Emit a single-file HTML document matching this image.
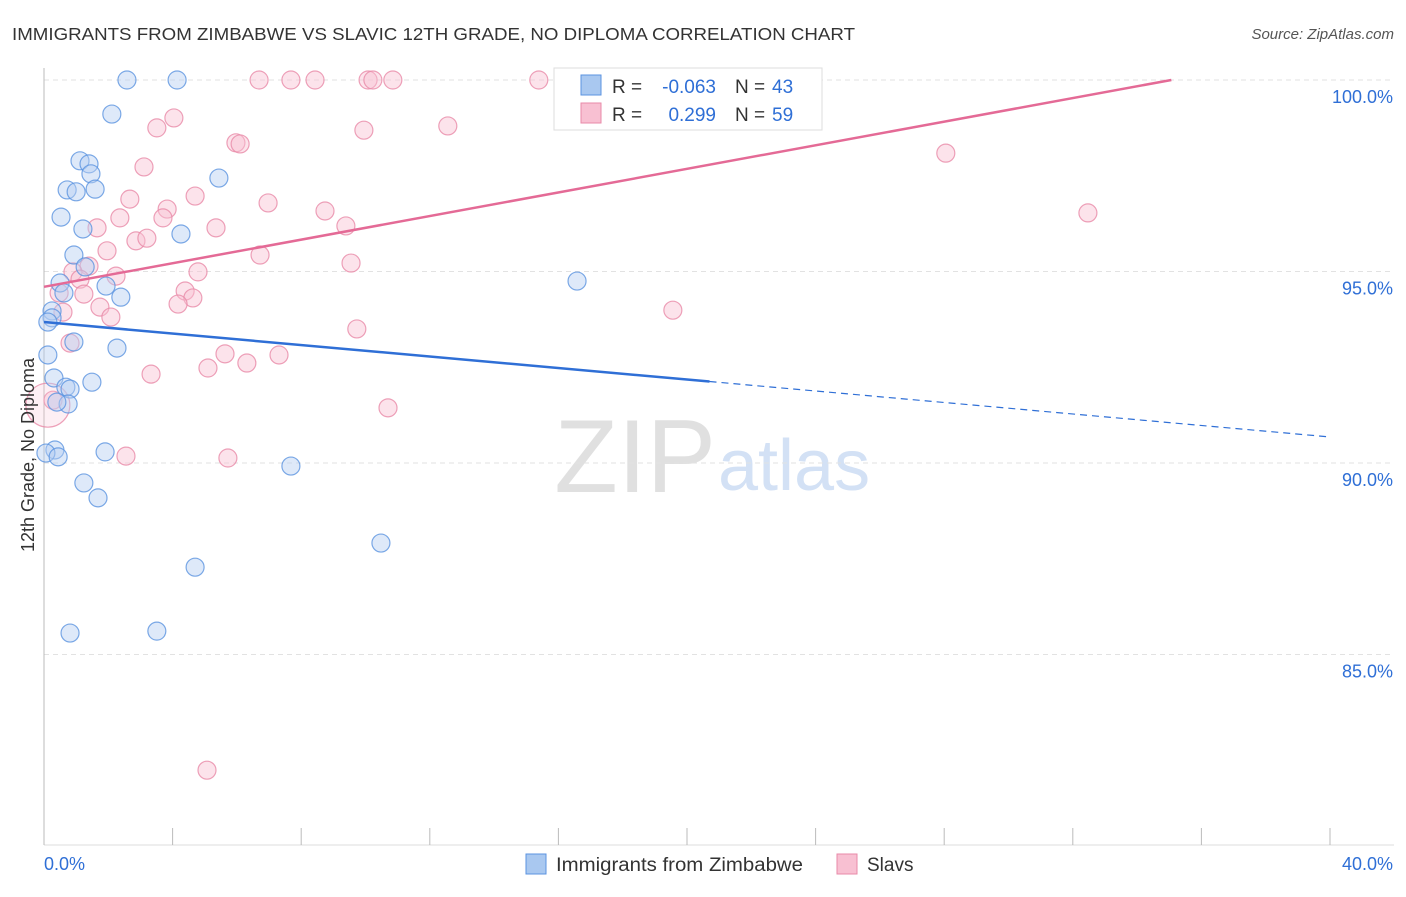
<!DOCTYPE html>
<html><head><meta charset="utf-8"><style>
body{margin:0;background:#fff;font-family:"Liberation Sans",sans-serif}
svg text{font-family:"Liberation Sans",sans-serif}
</style></head><body>
<svg id="chart" width="1406" height="892">
<text x="12" y="40" font-size="17.5" fill="#333" textLength="843" lengthAdjust="spacingAndGlyphs">IMMIGRANTS FROM ZIMBABWE VS SLAVIC 12TH GRADE, NO DIPLOMA CORRELATION CHART</text>
<text x="1394" y="39" font-size="15" fill="#555" text-anchor="end" font-style="italic">Source: ZipAtlas.com</text>
<text x="716" y="492" font-size="104" fill="#e0e0e0" text-anchor="end" font-family="Liberation Serif">ZIP</text>
<text x="718" y="490" font-size="72" fill="#d3e1f5">atlas</text>
<g id="grid"></g>
<g id="axes"></g>
<g id="pts"></g>
<g id="lines"></g>
<text transform="translate(34,455) rotate(-90)" font-size="18" fill="#333" text-anchor="middle">12th Grade, No Diploma</text>
<g>
<rect x="554" y="68" width="268" height="62" fill="#fff" stroke="#ddd"/>
<rect x="581" y="75" width="20" height="20" fill="#a9c8f0" stroke="#5b93e0"/>
<rect x="581" y="103" width="20" height="20" fill="#f8c0d2" stroke="#e88aa8"/>
<text x="612" y="93" font-size="19" fill="#333">R =</text>
<text x="716" y="93" font-size="19" fill="#2f6fd6" text-anchor="end">-0.063</text>
<text x="735" y="93" font-size="19" fill="#333">N =</text>
<text x="772" y="93" font-size="19" fill="#2f6fd6">43</text>
<text x="612" y="121" font-size="19" fill="#333">R =</text>
<text x="716" y="121" font-size="19" fill="#2f6fd6" text-anchor="end">0.299</text>
<text x="735" y="121" font-size="19" fill="#333">N =</text>
<text x="772" y="121" font-size="19" fill="#2f6fd6">59</text>
</g>
<g>
<rect x="526" y="854" width="20" height="20" fill="#a9c8f0" stroke="#5b93e0"/>
<text x="556" y="871" font-size="19" fill="#333" textLength="247" lengthAdjust="spacingAndGlyphs">Immigrants from Zimbabwe</text>
<rect x="837" y="854" width="20" height="20" fill="#f8c0d2" stroke="#e88aa8"/>
<text x="867" y="871" font-size="19" fill="#333">Slavs</text>
</g>
</svg>
<script>
const xTicks=[0,40];
const yTicks=[100,95,90,85];
const blueX=[2.58,4.14,2.11,1.12,1.40,1.46,5.44,0.72,1.00,1.59,0.53,1.21,4.26,0.93,1.28,0.50,1.93,0.62,2.39,16.58,0.25,0.25,0.93,2.27,0.12,0.31,1.49,0.68,0.81,0.75,0.40,0.34,0.06,0.44,1.90,7.68,1.24,1.68,10.48,4.70,0.81,3.51,0.12];
const blueY=[100,100,99.11,97.89,97.81,97.55,97.44,97.13,97.08,97.15,96.42,96.11,95.98,95.43,95.12,94.70,94.62,94.44,94.33,94.75,93.97,93.79,93.16,93.00,92.82,92.22,92.11,91.98,91.93,91.54,91.59,90.34,90.26,90.16,90.29,89.92,89.48,89.09,87.91,87.28,85.56,85.61,93.68];
const pinkX=[6.69,7.68,8.43,10.08,10.23,10.85,15.39,4.04,3.51,9.95,12.56,5.97,6.10,3.11,28.05,4.70,2.67,6.97,3.83,8.74,2.36,3.70,32.47,1.65,5.35,9.39,2.86,3.20,1.96,6.72,1.40,0.90,4.79,2.24,1.12,9.55,4.39,4.63,0.47,1.24,4.17,1.74,2.08,19.56,0.59,9.73,0.81,5.63,7.31,3.33,6.31,5.10,10.70,0.28,2.55,5.72,5.07,0.12];
const pinkY=[100,100,100,100,100,100,100,99.01,98.75,98.69,98.80,98.36,98.33,97.73,98.09,96.97,96.89,96.79,96.63,96.58,96.40,96.40,96.53,96.14,96.14,96.19,95.80,95.87,95.54,95.43,95.14,94.99,94.99,94.88,94.80,95.22,94.49,94.31,94.44,94.41,94.15,94.07,93.81,93.99,93.94,93.50,93.13,92.85,92.82,92.32,92.61,92.48,91.44,91.64,90.18,90.13,81.98,91.51];
const blueTrend=[93.68,-0.075];
const pinkTrend=[94.6,0.154];
const X0=44,X1=1330,Y0=80,YS=38.3;
const sx=v=>X0+(v/40)*(X1-X0);
const sy=v=>Y0+(100-v)*YS;
const NS="http://www.w3.org/2000/svg";
function mk(t,a,p){const e=document.createElementNS(NS,t);for(const k in a)e.setAttribute(k,a[k]);p.appendChild(e);return e;}
const grid=document.getElementById('grid'),axes=document.getElementById('axes'),pts=document.getElementById('pts'),lines=document.getElementById('lines');
yTicks.forEach(v=>{
 const l=mk('line',{x1:X0,x2:1394,y1:sy(v),y2:sy(v),stroke:'#e2e2e2','stroke-dasharray':'5,4'},grid);
 
 
 const t=mk('text',{x:1393,y:sy(v)+23,'font-size':18,fill:'#2f6fd6','text-anchor':'end'},grid);
 t.textContent=v.toFixed(1)+'%';
 
 
});
mk('line',{x1:X0,x2:X0,y1:68,y2:845,stroke:'#bbb'},axes);
mk('line',{x1:X0,x2:1394,y1:845,y2:845,stroke:'#ddd'},axes);
for(let i=0;i<=10;i++){const x=sx(i*4);mk('line',{x1:x,x2:x,y1:828,y2:845,stroke:'#bbb'},axes);}
xTicks.forEach((v,i)=>{
 const t=mk('text',{x:i?1393:44,y:870,'font-size':18,fill:'#2f6fd6','text-anchor':i?'end':'start'},axes);
 t.textContent=v.toFixed(1)+'%';
 
 
});
function dots(xs,ys,fill,stroke,name){
 xs.forEach((v,i)=>{
  const big=(name==='slavs-point'&&i===xs.length-1);
  const c=mk('circle',{cx:sx(v),cy:sy(ys[i]),r:big?22:9,fill:fill,'fill-opacity':big?0.25:0.45,stroke:stroke,'stroke-opacity':0.8,'stroke-width':1.2},pts);
  
  
 });
}
dots(pinkX,pinkY,'#f8c0d2','#e88aa8','slavs-point');
dots(blueX,blueY,'#b5cff2','#5b93e0','zimbabwe-point');
const pEnd=(100-pinkTrend[0])/pinkTrend[1];
const pl=mk('line',{x1:sx(0),y1:sy(pinkTrend[0]),x2:sx(pEnd),y2:sy(100),stroke:'#e46a96','stroke-width':2.5},lines);


const bMid=20.7;
const bl=mk('line',{x1:sx(0),y1:sy(blueTrend[0]),x2:sx(bMid),y2:sy(blueTrend[0]+blueTrend[1]*bMid),stroke:'#2f6fd6','stroke-width':2.5},lines);


const bd=mk('line',{x1:sx(bMid),y1:sy(blueTrend[0]+blueTrend[1]*bMid),x2:sx(40),y2:sy(blueTrend[0]+blueTrend[1]*40),stroke:'#2f6fd6','stroke-width':1.2,'stroke-dasharray':'7,5'},lines);


</script>
</body></html>
